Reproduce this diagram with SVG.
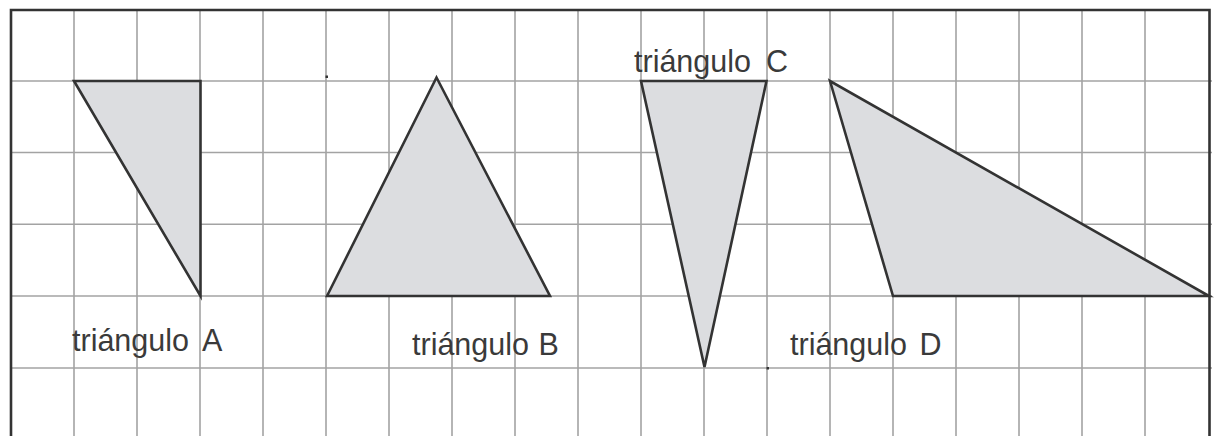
<svg xmlns="http://www.w3.org/2000/svg" width="1216" height="436" viewBox="0 0 1216 436">
  <style>
    .grid line { stroke: #a3a3a3; stroke-width: 1.6; }
    .border { fill: none; stroke: #333333; stroke-width: 2.6; }
    .tri { fill: #dcdde0; stroke: #333333; stroke-width: 2.6; stroke-linejoin: miter; }
    .lbl { font-family: "Liberation Sans", Arial, sans-serif; font-size: 30.5px; fill: #3a3a3a; }
    .dot { fill: #333333; }
  </style>
  <rect width="1216" height="436" fill="#ffffff"/>
  <g id="grid" class="grid">
    <line x1="74" y1="10" x2="74" y2="436"/>
    <line x1="137" y1="10" x2="137" y2="436"/>
    <line x1="200" y1="10" x2="200" y2="436"/>
    <line x1="263" y1="10" x2="263" y2="436"/>
    <line x1="326" y1="10" x2="326" y2="436"/>
    <line x1="389" y1="10" x2="389" y2="436"/>
    <line x1="452" y1="10" x2="452" y2="436"/>
    <line x1="515" y1="10" x2="515" y2="436"/>
    <line x1="578" y1="10" x2="578" y2="436"/>
    <line x1="641" y1="10" x2="641" y2="436"/>
    <line x1="704" y1="10" x2="704" y2="436"/>
    <line x1="767" y1="10" x2="767" y2="436"/>
    <line x1="830" y1="10" x2="830" y2="436"/>
    <line x1="893" y1="10" x2="893" y2="436"/>
    <line x1="956" y1="10" x2="956" y2="436"/>
    <line x1="1019" y1="10" x2="1019" y2="436"/>
    <line x1="1082" y1="10" x2="1082" y2="436"/>
    <line x1="1145" y1="10" x2="1145" y2="436"/>
    <line x1="11" y1="81" x2="1212" y2="81"/>
    <line x1="11" y1="152.5" x2="1212" y2="152.5"/>
    <line x1="11" y1="224.3" x2="1212" y2="224.3"/>
    <line x1="11" y1="296" x2="1212" y2="296"/>
    <line x1="11" y1="368" x2="1212" y2="368"/>
  </g>
  <path id="frame" class="border" d="M11 436 V10 H1209.5 V436"/>
  <rect class="dot" x="325.5" y="75.5" width="2.5" height="2.5"/>
  <rect class="dot" x="766.5" y="367" width="2.5" height="2.5"/>
  <g id="triA">
    <polygon class="tri" points="74,81 200.5,81 200.5,296"/>
    <text class="lbl" x="72" y="351">triángulo <tspan x="202">A</tspan></text>
  </g>
  <g id="triB">
    <polygon class="tri" points="327,296 436.5,77.5 550,296"/>
    <text class="lbl" x="412" y="355">triángulo <tspan x="538.5">B</tspan></text>
  </g>
  <g id="triC">
    <polygon class="tri" points="641,81 766.5,81 704.5,367"/>
    <text class="lbl" x="634" y="72">triángulo <tspan x="766">C</tspan></text>
  </g>
  <g id="triD">
    <polygon class="tri" points="830,81 893,296 1209,296"/>
    <text class="lbl" x="790" y="355">triángulo <tspan x="919.5">D</tspan></text>
  </g>
</svg>
